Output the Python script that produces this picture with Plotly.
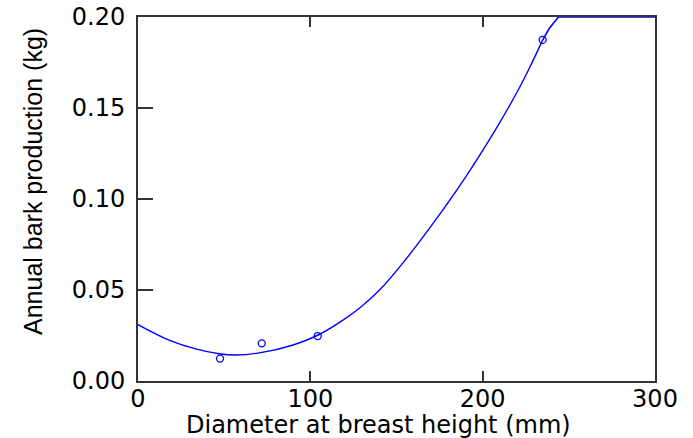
import plotly.graph_objects as go

# Observed data points
obs_x = [47.6, 71.8, 104.3, 234.8]
obs_y = [0.0123, 0.0207, 0.0247, 0.1874]

# Fitted curve (clipped at the top of the axis)
curve_x = [0, 18, 34, 47, 57, 72, 90, 104, 117, 129, 140, 154, 174, 189, 208, 220, 227.5,
           234.8, 238.7, 244, 300]
curve_y = [0.0310, 0.0225, 0.0175, 0.0150, 0.0143, 0.0157, 0.0198, 0.0250, 0.0322, 0.0404,
           0.0498, 0.0652, 0.0902, 0.1105, 0.1390, 0.1588, 0.1727,
           0.1873, 0.1938, 0.2000, 0.2000]
split = 17  # smooth part ends at the last observed point

x_ticks = [0, 100, 200, 300]
y_ticks = [0.00, 0.05, 0.10, 0.15, 0.20]
y_tick_labels = ["0.00", "0.05", "0.10", "0.15", "0.20"]

BLUE = "#0000ff"
TICKFONT = "DejaVu Sans, Liberation Sans, sans-serif"
AXC = "#333333"

fig = go.Figure()
fig.add_trace(go.Scatter(x=curve_x[:split + 1], y=curve_y[:split + 1], mode="lines",
                         line=dict(color=BLUE, width=1.4, shape="spline", smoothing=1.0),
                         showlegend=False, hoverinfo="skip"))
fig.add_trace(go.Scatter(x=curve_x[split:], y=curve_y[split:], mode="lines",
                         line=dict(color=BLUE, width=1.6),
                         showlegend=False, hoverinfo="skip"))
fig.add_trace(go.Scatter(x=obs_x, y=obs_y, mode="markers",
                         marker=dict(symbol="circle-open", size=7, color=BLUE, line=dict(width=1.3)),
                         showlegend=False, cliponaxis=False))

fig.update_layout(
    width=693, height=438,
    margin=dict(l=138, r=38, t=17, b=57, autoexpand=False),
    paper_bgcolor="white", plot_bgcolor="white",
    font=dict(family=TICKFONT, size=24, color="black"),
    xaxis=dict(range=[0, 300], tickvals=x_ticks, ticks="inside", ticklen=10, tickwidth=1.5,
               tickcolor=AXC, showline=True, linecolor=AXC, linewidth=1.5, mirror="ticks",
               showgrid=False, zeroline=False, automargin=False,
               tickfont=dict(size=24, family=TICKFONT), ticklabelstandoff=-5),
    yaxis=dict(range=[0, 0.2], tickvals=y_ticks, ticktext=y_tick_labels, ticks="inside",
               ticklen=15, tickwidth=1.5, tickcolor=AXC, showline=True, linecolor=AXC,
               linewidth=2, mirror=True, showgrid=False, zeroline=False, automargin=False,
               tickfont=dict(size=24, family=TICKFONT), ticklabelstandoff=6),
    annotations=[
        dict(text="Diameter at breast height (mm)", xref="paper", yref="paper",
             x=(378 - 138) / 517, y=-(425 - 381) / 364, xanchor="center", yanchor="middle",
             showarrow=False, font=dict(size=24, family=TICKFONT)),
        dict(text="Annual bark production (kg)", xref="paper", yref="paper",
             x=-(138 - 33) / 517, y=(381 - 182) / 364, xanchor="center", yanchor="middle",
             textangle=-90, showarrow=False,
             font=dict(size=25, family="Liberation Sans, Arial, sans-serif")),
    ],
)

fig.write_html("out.html", config={"displayModeBar": False},
               post_script="document.body.style.margin='0';document.body.style.padding='0';")
